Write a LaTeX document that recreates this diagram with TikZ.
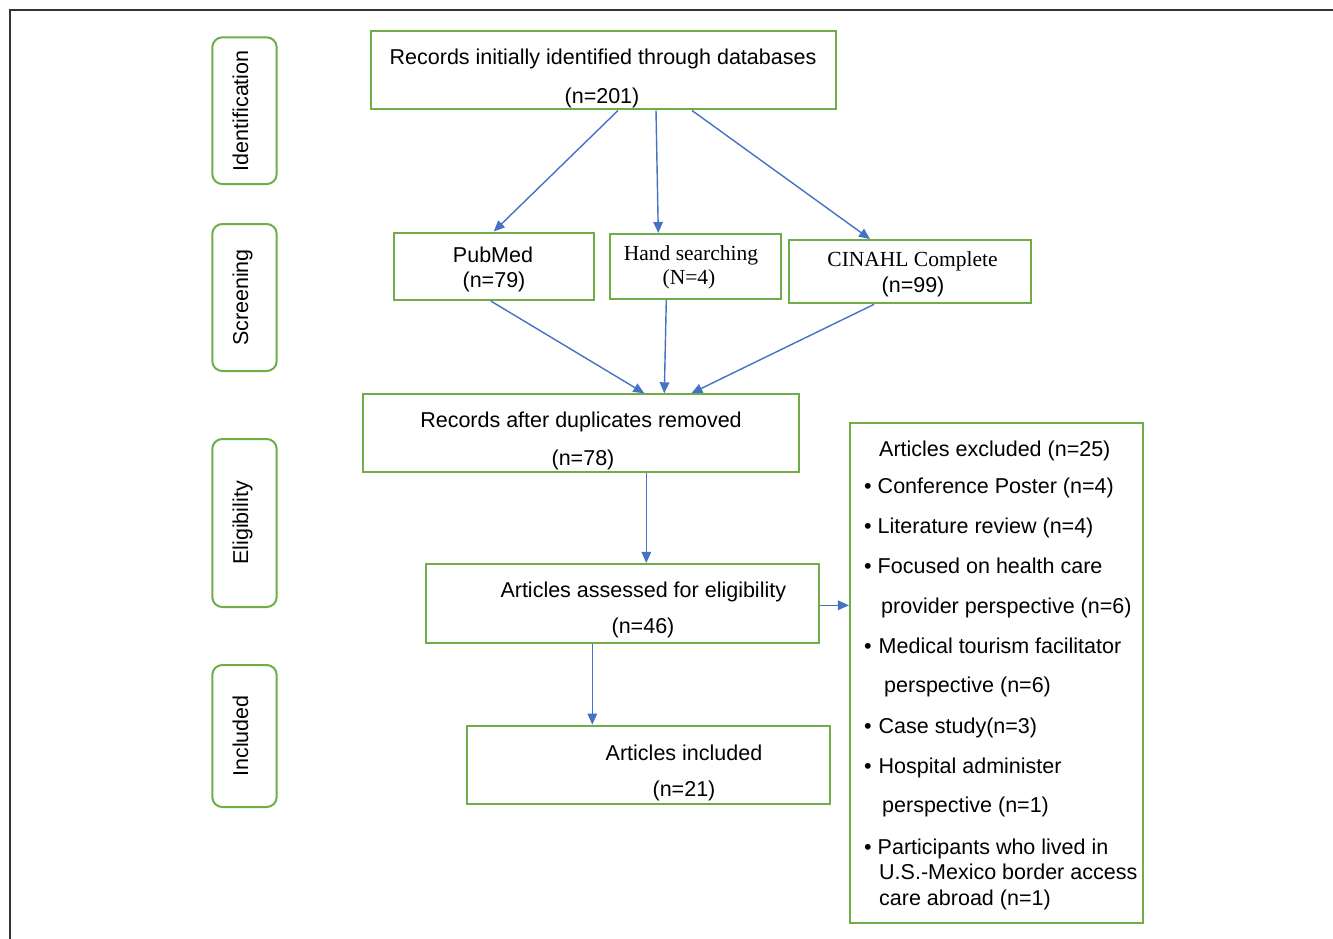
\documentclass[tikz,border=0pt]{standalone}
\usepackage{fontspec}
\setmainfont{Liberation Sans}
\newfontfamily\seriffont{Liberation Serif}
\usetikzlibrary{arrows.meta}
\definecolor{boxgreen}{HTML}{70AD47}
\definecolor{arrowblue}{HTML}{4472C4}
\definecolor{framegray}{HTML}{333333}
\begin{document}
\begin{tikzpicture}[x=1pt,y=-1pt,
  font=\fontsize{21.5}{25}\selectfont,
  box/.style={draw=boxgreen, line width=2pt, inner sep=0pt, rectangle},
  phase/.style={draw=boxgreen, line width=2pt, inner sep=0pt, rectangle, rounded corners=10pt,
     rotate=90, text height=0.716em, text depth=0pt},
  txt/.style={anchor=base, inner sep=0pt},
  ltxt/.style={anchor=base west, inner sep=0pt},
  flow/.style={draw=arrowblue, line width=1.4pt, -{Triangle[length=11pt,width=9.5pt]}}
]
\useasboundingbox (0,0) rectangle (1333,939);
% frame
\coordinate (frTR) at (1333,10);
\coordinate (frTL) at (10,10);
\coordinate (frBL) at (10,939);
\draw[framegray, line width=1.5pt] (frTR) -- (frTL) -- (frBL);

% phase labels
\node[phase, minimum width=146.7pt, minimum height=64.4pt] (pid) at (244.5,110.7) {Identification};
\node[phase, minimum width=147pt, minimum height=64.4pt] (psc) at (244.5,297.5) {Screening};
\node[phase, minimum width=168pt, minimum height=64.4pt] (pel) at (244.5,523) {Eligibility};
\node[phase, minimum width=142pt, minimum height=64.4pt] (pin) at (244.5,736) {Included};

% boxes
\node[box, minimum width=465pt, minimum height=78pt] (top) at (603,70.5) {};
\node[box, minimum width=200.5pt, minimum height=67.5pt] (pub) at (493.75,266.25) {};
\node[box, minimum width=170.7pt, minimum height=65pt] (hand) at (695.3,266.5) {};
\node[box, minimum width=241.4pt, minimum height=63.3pt] (cin) at (910,271.7) {};
\node[box, minimum width=436pt, minimum height=78pt] (dup) at (581.3,433.3) {};
\node[box, minimum width=393.3pt, minimum height=78.7pt] (ass) at (622.3,603.3) {};
\node[box, minimum width=363.3pt, minimum height=78.3pt] (inc) at (648.3,764.8) {};
\node[box, minimum width=292.7pt, minimum height=500pt] (exc) at (996.3,673.3) {};

% box texts
\node[txt] (topa) at (603,65) {Records initially identified through databases};
\node[txt] (topb) at (602,103.5) {(n=201)};
\node[txt] (puba) at (493,262) {PubMed};
\node[txt] (pubb) at (494,287.7) {(n=79)};
\node[txt, font=\fontsize{21.5}{25}\seriffont] (handa) at (691,260.7) {Hand searching};
\node[txt, font=\fontsize{21.5}{25}\seriffont] (handb) at (689,284) {(N=4)};
\node[txt, font=\fontsize{21.5}{25}\seriffont] (cina) at (912.5,266.7) {CINAHL Complete};
\node[txt] (cinb) at (913,292.7) {(n=99)};
\node[txt] (dupa) at (581,427.7) {Records after duplicates removed};
\node[txt] (dupb) at (583,465) {(n=78)};
\node[txt] (assa) at (643.3,597.7) {Articles assessed for eligibility};
\node[txt] (assb) at (643,633) {(n=46)};
\node[txt] (inca) at (684,760) {Articles included};
\node[txt] (incb) at (684,796.7) {(n=21)};

% excluded list
\node[ltxt] (e0) at (879,456.7) {Articles excluded (n=25)};
\node[ltxt] (e1) at (864,493.3) {\textbullet\hspace{6pt}Conference Poster (n=4)};
\node[ltxt] (e2) at (864,533.3) {\textbullet\hspace{6pt}Literature review (n=4)};
\node[ltxt] (e3) at (864,573.3) {\textbullet\hspace{6pt}Focused on health care};
\node[ltxt] (e3b) at (881,613.3) {provider perspective (n=6)};
\node[ltxt] (e4) at (864,653.5) {\textbullet\hspace{7pt}Medical tourism facilitator};
\node[ltxt] (e4b) at (884,692) {perspective (n=6)};
\node[ltxt] (e5) at (864,733.5) {\textbullet\hspace{7pt}Case study(n=3)};
\node[ltxt] (e6) at (864,773.5) {\textbullet\hspace{7pt}Hospital administer};
\node[ltxt] (e6b) at (882,812.5) {perspective (n=1)};
\node[ltxt] (e7) at (864,854.5) {\textbullet\hspace{6pt}Participants who lived in};
\node[ltxt] (e7b) at (879,879.5) {U.S.-Mexico border access};
\node[ltxt] (e7c) at (879,905.5) {care abroad (n=1)};

% connectors
\draw[flow] ([xshift=15pt]top.south) -- (pub.north);
\draw[flow] ([xshift=53pt]top.south) -- ([xshift=-37pt]hand.north);
\draw[flow] ([xshift=89pt]top.south) -- ([xshift=-40pt]cin.north);
\draw[flow] ([xshift=-3pt]pub.south) -- ([xshift=63pt]dup.north);
\draw[flow] ([xshift=-29pt]hand.south) -- ([xshift=83pt]dup.north);
\draw[flow] ([xshift=-36pt]cin.south) -- ([xshift=110pt]dup.north);
\draw[flow] ([xshift=65pt]dup.south) -- ([xshift=24pt]ass.north);
\draw[flow] ([xshift=-30pt]ass.south) -- ([xshift=-56pt]inc.north);
\draw[flow] ([yshift=-2pt]ass.east) -- ([yshift=-2pt]ass.east -| exc.west);
\end{tikzpicture}
\end{document}
